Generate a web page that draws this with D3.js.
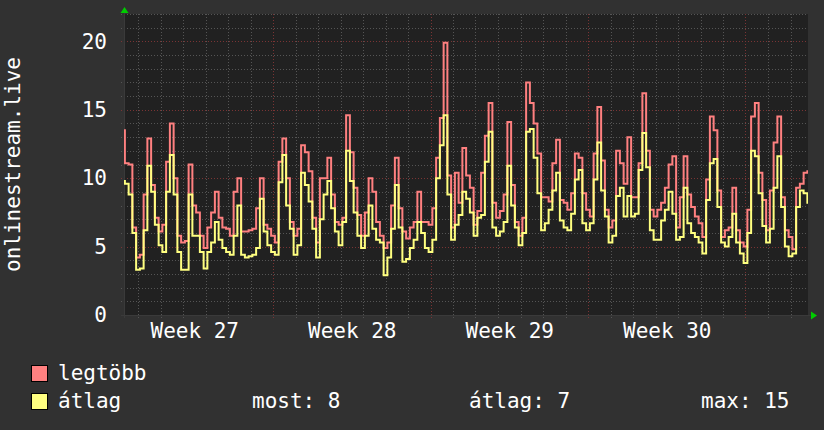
<!DOCTYPE html>
<html>
<head>
<meta charset="utf-8">
<script src="https://cdn.jsdelivr.net/npm/d3@7"></script>
<style>
  body { margin: 0; background: #313131; }
  svg { display: block; }
</style>
</head>
<body>
<div id="chart"></div>
<script>
// data: 4 hour samples starting Monday of week 27, 08:00
var startTime = new Date(2024, 6, 1, 8, 0);
var stepHours = 4;

var maxValues = [
  13.5, 11.1, 11.0, 6.4, 4.2, 4.4, 8.8, 12.9, 9.5, 7.1, 6.1, 6.6, 11.2, 14.0, 10.0, 5.8, 5.3, 5.4,
  11.0, 8.0, 7.5, 5.8, 4.9, 6.4, 7.5, 9.0, 7.1, 6.4, 6.3, 5.8, 9.0, 10.0, 6.1, 6.1, 6.2, 6.3, 7.8,
  10.0, 6.6, 6.3, 5.8, 5.3, 11.2, 12.9, 10.0, 6.8, 5.8, 6.3, 12.4, 11.9, 10.5, 7.1, 5.3, 10.0, 10.0,
  11.5, 8.8, 6.8, 6.6, 7.1, 14.6, 11.9, 9.3, 7.3, 5.8, 7.5, 10.0, 9.0, 6.8, 5.8, 4.9, 5.3, 8.0, 11.5,
  7.8, 6.1, 5.6, 6.4, 6.8, 9.0, 6.8, 6.8, 6.6, 7.8, 11.5, 14.4, 19.9, 10.2, 6.4, 10.4, 8.2, 12.2,
  10.2, 9.3, 6.6, 7.6, 10.4, 13.1, 15.5, 8.2, 7.1, 7.6, 8.8, 14.1, 9.5, 6.8, 5.8, 7.1, 17.0, 15.5, 14.0,
  11.8, 8.6, 8.6, 8.3, 11.1, 12.8, 8.4, 8.2, 7.7, 8.9, 11.8, 11.5, 8.9, 7.7, 7.2, 11.8, 15.2, 11.3,
  7.7, 6.4, 6.9, 12.0, 11.1, 9.6, 13.0, 8.6, 8.6, 11.1, 16.2, 12.0, 7.7, 7.2, 7.7, 8.2, 9.3, 11.0,
  11.6, 6.4, 8.6, 11.6, 8.8, 7.9, 7.2, 6.7, 5.7, 9.9, 14.5, 13.5, 9.1, 5.7, 6.2, 6.4, 9.3, 6.2,
  5.3, 5.0, 7.7, 14.5, 15.5, 10.4, 8.4, 6.2, 9.1, 12.6, 14.5, 8.6, 6.2, 5.7, 4.8, 9.3, 9.6, 10.4, 10.5
];

var avgValues = [
  9.8, 9.6, 8.8, 6.0, 3.3, 3.4, 6.2, 10.9, 9.0, 6.6, 5.1, 4.6, 9.0, 11.7, 8.8, 4.6, 3.3, 3.3,
  8.8, 5.8, 5.8, 4.6, 3.4, 4.6, 5.3, 6.8, 5.5, 4.9, 4.6, 4.4, 5.8, 8.0, 4.4, 4.2, 4.3, 4.4, 4.9,
  8.5, 6.1, 5.1, 4.6, 4.4, 9.7, 11.7, 8.0, 6.3, 4.4, 5.1, 10.4, 9.5, 8.3, 6.3, 4.2, 7.0, 8.8,
  9.8, 7.8, 6.1, 5.1, 6.8, 12.0, 9.8, 7.5, 5.8, 4.9, 5.8, 8.0, 6.3, 5.5, 5.3, 2.9, 4.2, 6.3, 9.5,
  6.4, 3.9, 4.1, 4.9, 5.5, 6.8, 6.0, 4.9, 4.6, 5.5, 10.0, 12.4, 14.6, 8.8, 5.5, 6.6, 7.3, 9.0,
  8.5, 7.5, 5.8, 7.1, 7.3, 11.2, 13.4, 6.4, 5.8, 6.1, 6.8, 10.9, 8.0, 6.4, 5.1, 6.0, 13.4, 13.6, 11.5,
  8.9, 6.2, 6.7, 7.7, 9.1, 10.4, 6.9, 6.4, 6.2, 7.4, 9.9, 10.6, 6.7, 6.2, 6.7, 9.9, 12.6, 9.1,
  7.2, 5.3, 5.8, 8.7, 9.3, 7.2, 8.7, 7.2, 7.4, 10.6, 13.3, 10.8, 6.2, 5.5, 5.5, 6.9, 7.7, 9.0,
  7.4, 5.5, 5.7, 9.3, 6.7, 6.0, 5.7, 5.3, 4.5, 8.4, 11.1, 11.4, 7.9, 5.3, 5.0, 5.7, 7.4, 5.3,
  4.5, 3.8, 6.0, 12.0, 11.6, 8.9, 6.5, 5.3, 6.3, 9.3, 11.6, 7.9, 5.0, 4.3, 4.5, 7.9, 9.1, 8.9, 8.2
];

var yTicks = [0, 5, 10, 15, 20];
var weekLabels = ['Week 27', 'Week 28', 'Week 29', 'Week 30'];
var seriesNames = ['legtöbb', 'átlag'];
var statLabels = ['most: 8', 'átlag: 7', 'max: 15'];

var chart_width = 824;
var chart_height = 430;
var plot = { left: 124, right: 808, top: 14, bottom: 315 };
var font = '"DejaVu Sans Mono", monospace';

var hour = 3600 * 1000;
var day = 24 * hour;
var week27 = new Date(2024, 6, 1);

var dataset = maxValues.map(function(v, i) {
  return { date: new Date(startTime.getTime() + i * stepHours * hour), max: v, avg: avgValues[i] };
});

// scales
var x_scale = d3.scaleTime()
  .domain([new Date(week27.getTime() + 8.5 / 22.5 * day), new Date(week27.getTime() + (8.5 + 684) / 22.5 * day)])
  .range([plot.left, plot.right]);

var y_scale = d3.scaleLinear()
  .domain([0, 22])
  .range([plot.bottom, plot.top]);

var svg = d3.select('#chart')
  .append('svg')
  .attr('width', chart_width)
  .attr('height', chart_height);

svg.append('rect')
  .attr('width', chart_width)
  .attr('height', chart_height)
  .attr('fill', '#313131');

svg.append('rect')
  .attr('x', plot.left)
  .attr('y', plot.top)
  .attr('width', plot.right - plot.left)
  .attr('height', plot.bottom - plot.top)
  .attr('fill', '#212121');

// grid
var grid = svg.append('g');

d3.range(1, 23).forEach(function(v) {
  var major = v % 5 == 0;
  grid.append('line')
    .attr('x1', plot.left - 3)
    .attr('x2', plot.right)
    .attr('y1', Math.round(y_scale(v)) + 0.5)
    .attr('y2', Math.round(y_scale(v)) + 0.5)
    .attr('stroke', major ? '#7a3434' : '#555555')
    .attr('stroke-dasharray', '1,2');
});

var days = d3.timeDay.range(x_scale.domain()[0], x_scale.domain()[1]);
days.forEach(function(d) {
  var major = d.getDay() == 1;
  grid.append('line')
    .attr('x1', Math.round(x_scale(d)) + 0.5)
    .attr('x2', Math.round(x_scale(d)) + 0.5)
    .attr('y1', plot.top)
    .attr('y2', plot.bottom + 3)
    .attr('stroke', major ? '#7a3434' : '#555555')
    .attr('stroke-dasharray', '1,2');
});

// axes
svg.append('line')
  .attr('x1', plot.left - 3).attr('x2', plot.right + 3)
  .attr('y1', plot.bottom + 0.5).attr('y2', plot.bottom + 0.5)
  .attr('stroke', '#3a3a3a');

svg.append('line')
  .attr('x1', plot.left + 0.5).attr('x2', plot.left + 0.5)
  .attr('y1', plot.bottom + 3).attr('y2', plot.top - 4)
  .attr('stroke', '#3a3a3a');

var y_axis = d3.axisLeft(y_scale)
  .tickValues(yTicks)
  .tickSizeInner(0)
  .tickSizeOuter(0)
  .tickPadding(17);

svg.append('g')
  .attr('transform', 'translate(' + plot.left + ',0)')
  .call(y_axis)
  .call(function(g) { g.select('.domain').remove(); })
  .selectAll('text')
  .attr('fill', '#ffffff')
  .attr('font-family', font)
  .attr('font-size', 21);

var weekCenters = weekLabels.map(function(w, i) {
  return new Date(week27.getTime() + (i * 7 + 3.5) * day);
});

var x_axis = d3.axisBottom(x_scale)
  .tickValues(weekCenters)
  .tickFormat(function(d, i) { return weekLabels[i]; })
  .tickSizeInner(0)
  .tickSizeOuter(0)
  .tickPadding(8);

svg.append('g')
  .attr('transform', 'translate(0,' + plot.bottom + ')')
  .call(x_axis)
  .call(function(g) { g.select('.domain').remove(); })
  .selectAll('text')
  .attr('fill', '#ffffff')
  .attr('font-family', font)
  .attr('font-size', 21);

// arrows
svg.append('path')
  .attr('d', 'M' + (plot.left - 3.5) + ',' + (plot.top - 1) + 'L' + (plot.left + 4.5) + ',' + (plot.top - 1) + 'L' + (plot.left + 0.5) + ',' + (plot.top - 7) + 'Z')
  .attr('fill', '#00cc00');

svg.append('path')
  .attr('d', 'M' + (plot.right + 3) + ',' + (plot.bottom - 3.5) + 'L' + (plot.right + 3) + ',' + (plot.bottom + 4.5) + 'L' + (plot.right + 9) + ',' + (plot.bottom + 0.5) + 'Z')
  .attr('fill', '#00cc00');

// lines
svg.append('clipPath')
  .attr('id', 'clip')
  .append('rect')
  .attr('x', plot.left)
  .attr('y', plot.top)
  .attr('width', plot.right - plot.left)
  .attr('height', plot.bottom - plot.top);

var maxLine = d3.line()
  .curve(d3.curveStep)
  .x((d) => x_scale(d.date))
  .y((d) => y_scale(d.max));

var avgLine = d3.line()
  .curve(d3.curveStep)
  .x((d) => x_scale(d.date))
  .y((d) => y_scale(d.avg));

svg.append('path')
  .datum(dataset)
  .attr('clip-path', 'url(#clip)')
  .attr('fill', 'none')
  .attr('stroke', '#ff8080')
  .attr('stroke-width', 2)
  .attr('d', maxLine);

svg.append('path')
  .datum(dataset)
  .attr('clip-path', 'url(#clip)')
  .attr('fill', 'none')
  .attr('stroke', '#ffff80')
  .attr('stroke-width', 2)
  .attr('d', avgLine);

// vertical title
svg.append('text')
  .attr('transform', 'translate(19.5,' + ((plot.top + plot.bottom) / 2) + ') rotate(-90)')
  .attr('text-anchor', 'middle')
  .attr('fill', '#ffffff')
  .attr('font-family', font)
  .attr('font-size', 21)
  .text('onlinestream.live');

// legend
var colors = ['#ff8080', '#ffff80'];
seriesNames.forEach(function(name, i) {
  svg.append('rect')
    .attr('x', 31.5)
    .attr('y', 365.5 + i * 28)
    .attr('width', 16)
    .attr('height', 16)
    .attr('fill', colors[i])
    .attr('stroke', '#000000');
  svg.append('text')
    .attr('x', 58)
    .attr('y', 380 + i * 28)
    .attr('fill', '#ffffff')
    .attr('font-family', font)
    .attr('font-size', 21)
    .text(name);
});

var statX = [252, 469, 701];
statLabels.forEach(function(s, i) {
  svg.append('text')
    .attr('x', statX[i])
    .attr('y', 408)
    .attr('fill', '#ffffff')
    .attr('font-family', font)
    .attr('font-size', 21)
    .text(s);
});
</script>
</body>
</html>
